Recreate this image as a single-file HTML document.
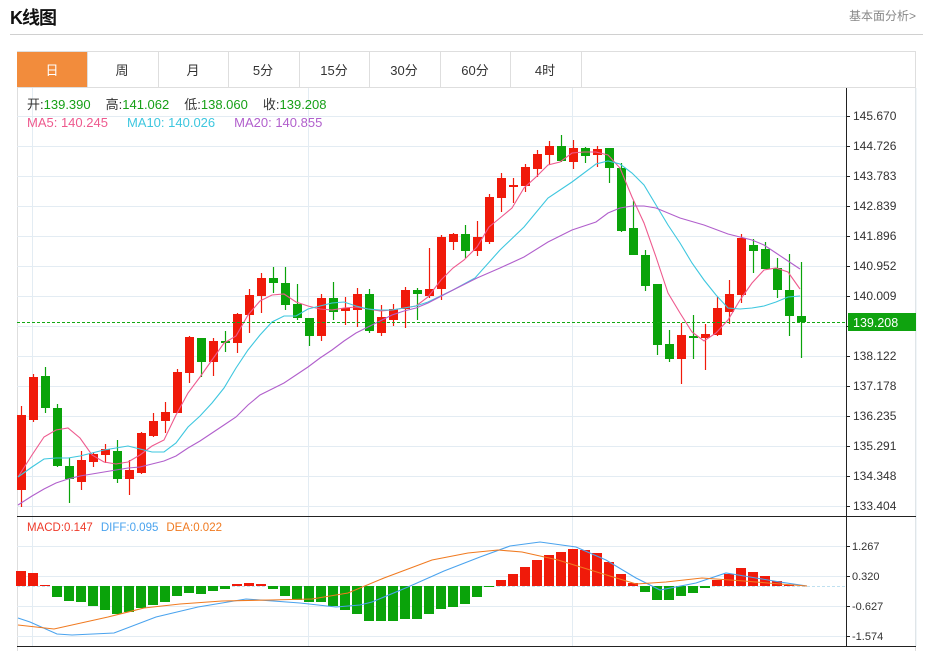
<!DOCTYPE html>
<html><head><meta charset="utf-8">
<style>
body{margin:0;background:#fff;width:929px;height:651px;overflow:hidden;position:relative;font-family:"Liberation Sans","Noto Sans CJK SC",sans-serif;}
.t{position:absolute;white-space:nowrap}
</style></head><body>
<div class="t" style="left:10px;top:4px;font-size:18px;font-weight:bold;color:#111;letter-spacing:-1px">K线图</div>
<div class="t" style="left:849px;top:7px;font-size:12px;color:#888">基本面分析&gt;</div>
<div style="position:absolute;left:10px;top:34px;width:913px;height:1px;background:#d0d0d0"></div>
<svg id="s" width="929" height="651" style="position:absolute;left:0;top:0" xmlns="http://www.w3.org/2000/svg" font-family="Liberation Sans, Noto Sans CJK SC, sans-serif">
<rect x="17.5" y="51.5" width="898" height="600" fill="none" stroke="#dedede"/>
<rect x="17" y="52" width="70" height="35" fill="#f28c3c"/>
<g stroke="#dedede"><line x1="17" y1="87.5" x2="916" y2="87.5"/>
<line x1="87.5" y1="52" x2="87.5" y2="87"/><line x1="158.5" y1="52" x2="158.5" y2="87"/><line x1="228.5" y1="52" x2="228.5" y2="87"/><line x1="299.5" y1="52" x2="299.5" y2="87"/><line x1="369.5" y1="52" x2="369.5" y2="87"/><line x1="440.5" y1="52" x2="440.5" y2="87"/><line x1="510.5" y1="52" x2="510.5" y2="87"/><line x1="581.5" y1="52" x2="581.5" y2="87"/></g>
<g font-size="13" text-anchor="middle" fill="#333"><text x="52" y="75" fill="#fff">日</text><text x="122" y="75">周</text><text x="193" y="75">月</text><text x="263" y="75">5分</text><text x="334" y="75">15分</text><text x="404" y="75">30分</text><text x="475" y="75">60分</text><text x="545" y="75">4时</text></g>
<g id="grid" stroke="#e3ecf3" stroke-width="1"></g>
<g id="c"></g>
<line x1="846.5" y1="88" x2="846.5" y2="646" stroke="#222"/>
<line x1="17" y1="516.5" x2="916" y2="516.5" stroke="#222"/>
<line x1="17" y1="646.5" x2="916" y2="646.5" stroke="#222"/>
<line x1="17" y1="322.5" x2="846" y2="322.5" stroke="#13a813" stroke-dasharray="3,2"/>
<rect x="848" y="313" width="68" height="18" fill="#0fa30f"/>
<text x="853" y="327" font-size="12.5" fill="#fff">139.208</text>
<g id="lab" font-size="12" fill="#333"></g>
<g font-size="13">
<text x="27" y="109"><tspan fill="#333">开:</tspan><tspan fill="#17a017">139.390</tspan><tspan fill="#333" dx="15">高:</tspan><tspan fill="#17a017">141.062</tspan><tspan fill="#333" dx="15">低:</tspan><tspan fill="#17a017">138.060</tspan><tspan fill="#333" dx="15">收:</tspan><tspan fill="#17a017">139.208</tspan></text>
<text x="27" y="127"><tspan fill="#ee5a8e">MA5: 140.245</tspan><tspan fill="#3ec7df" dx="19">MA10: 140.026</tspan><tspan fill="#b15fcc" dx="19">MA20: 140.855</tspan></text>
</g>
<text x="27" y="531" font-size="11.5"><tspan fill="#ee3a2a">MACD:0.147</tspan><tspan fill="#4aa3ee" dx="8">DIFF:0.095</tspan><tspan fill="#f07a20" dx="8">DEA:0.022</tspan></text>
</svg>
<script>
var NS="http://www.w3.org/2000/svg";
function el(p,t,a){var e=document.createElementNS(NS,t);for(var k in a)e.setAttribute(k,a[k]);document.getElementById(p).appendChild(e);return e;}
var pl=["145.670","144.726","143.783","142.839","141.896","140.952","140.009",null,"138.122","137.178","136.235","135.291","134.348","133.404"];
for(var i=0;i<14;i++){var y=116+30*i;el("grid","line",{x1:17,x2:846,y1:y+.5,y2:y+.5});el("grid","line",{x1:846,x2:850,y1:y+.5,y2:y+.5,stroke:"#222"});}
pl.forEach(function(v,i){if(v){var t=el("lab","text",{x:853,y:120+30*i});t.textContent=v;}});
[["1.267",546],["0.320",576],["-0.627",606],["-1.574",636]].forEach(function(a){el("grid","line",{x1:17,x2:846,y1:a[1]+.5,y2:a[1]+.5});el("grid","line",{x1:846,x2:850,y1:a[1]+.5,y2:a[1]+.5,stroke:"#222"});var t=el("lab","text",{x:852,y:a[1]+4,"font-size":11});t.textContent=a[0];});
[32.5,308.5,572.5].forEach(function(x){el("grid","line",{x1:x,x2:x,y1:88,y2:646});});
el("grid","line",{x1:916,x2:916,y1:88,y2:646});
var C=[["r",415,490,406,507],["r",377,420,374,422],["g",376,408,367,413],["g",408,466,404,467],["g",466,479,458,503],["r",460,482,451,490],["r",454,462,452,467],["r",449,455,444,463],["g",451,479,440,483],["r",470,479,460,495],
["r",433,473,432,474],["r",421,436,413,437],["r",412,421,402,433],["r",372,413,369,413],["r",337,373,336,383],["g",338,362,338,377],["r",341,362,338,376],["g",341,342,331,352],["r",314,343,313,353],["r",295,315,289,333],
["r",278,296,273,313],["g",278,283,267,293],["g",283,305,267,310],["g",304,318,284,320],["g",318,336,318,346],["r",298,336,294,341],["g",298,312,282,320],["r",308,311,297,325],["r",294,310,288,327],["g",294,331,289,333],
["r",317,333,305,336],["r",309,320,304,326],["r",290,309,287,328],["g",290,294,288,320],["r",289,296,248,298],["r",237,289,235,300],["r",234,242,233,250],["g",234,251,225,258],["r",237,251,221,256],["r",197,242,194,244],
["r",178,198,173,212],["r",185,187,178,203],["r",167,186,164,192],["r",154,169,150,177],["r",146,155,141,165],["g",146,161,135,162],["r",148,162,140,169],["g",148,156,147,163],["r",149,155,146,167],["g",148,168,148,183],
["g",168,231,163,232],["g",228,255,201,255],["g",255,286,250,291],["g",284,345,284,355],["g",344,359,330,362],["r",335,359,323,384],["g",336,338,315,359],["r",334,338,324,370],["r",308,335,297,336],["r",294,312,280,324],
["r",238,295,234,303],["g",245,251,239,273],["g",249,269,242,269],["g",268,290,258,298],["g",290,316,254,336],["g",316,322,262,358]];
C.forEach(function(c,i){var x=21+12*i,col=c[0]=="r"?"#f01a0a":"#0aa30a";
el("c","line",{x1:x+.5,x2:x+.5,y1:c[3],y2:c[4],stroke:col,"stroke-width":1.2});
el("c","rect",{x:x-4,y:c[1],width:9,height:Math.max(2,c[2]-c[1]),fill:col});});
function line(pts,col,w){el("c","polyline",{points:pts.map(function(p){return p.join(",")}).join(" "),fill:"none",stroke:col,"stroke-width":w||1.1});}
line([[18,477],[32,455],[44,437],[56,430],[68,428],[80,438],[92,455],[104,462],[116,464],[128,462],[140,455],[152,446],[164,440],[176,415],[188,393],[200,377],[212,360],[224,343],[236,336],[248,315],[260,301],[272,295],[284,294],[296,302],[308,306],[320,309],[332,310],[344,308],[356,307],[368,309],[380,311],[392,310],[404,308],[416,306],[428,297],[441,280],[453,268],[464,260],[477,247],[489,227],[500,218],[512,208],[524,188],[536,177],[548,165],[560,162],[572,153],[584,152],[596,152],[608,155],[620,168],[632,197],[644,223],[656,257],[668,293],[680,313],[692,332],[704,341],[716,333],[728,320],[740,300],[752,283],[764,270],[776,268],[788,272],[800,289]],"#ee5a8e");
line([[18,477],[32,467],[44,459],[56,458],[68,458],[80,456],[92,453],[104,450],[116,448],[128,446],[140,449],[152,452],[164,452],[176,443],[188,427],[200,416],[212,403],[224,388],[236,368],[248,350],[260,335],[272,322],[284,316],[296,316],[308,309],[320,306],[332,303],[344,302],[356,306],[368,309],[380,310],[392,310],[404,308],[416,306],[428,302],[453,290],[475,278],[500,250],[524,227],[548,198],[572,182],[596,164],[608,161],[620,164],[632,173],[644,185],[656,205],[668,225],[680,243],[692,263],[704,280],[716,295],[728,308],[740,309],[752,308],[764,306],[776,302],[788,297],[800,296]],"#3ec7df");
line([[18,505],[32,496],[44,489],[56,483],[68,479],[80,476],[92,474],[104,472],[116,470],[128,468],[140,467],[152,464],[164,461],[176,456],[188,448],[200,441],[212,433],[224,425],[236,417],[248,405],[260,395],[272,389],[284,383],[296,375],[308,367],[320,358],[332,350],[344,341],[356,333],[368,327],[380,321],[392,315],[404,311],[416,308],[428,303],[453,290],[477,278],[500,268],[524,257],[548,242],[572,230],[596,222],[608,213],[620,208],[632,206],[644,206],[656,208],[680,218],[704,225],[728,234],[752,240],[764,245],[776,253],[788,261],[800,269]],"#b15fcc");
el("c","line",{x1:17,x2:846,y1:586.5,y2:586.5,stroke:"#bfe0f0","stroke-dasharray":"3,2"});
var M=[571,573,585,597,601,602,606,610,614,612,608,605,602,596,593,594,591,589,584,583,584,589,596,600,602,602,606,610,614,621,621,621,619,619,614,609,607,604,597,587,580,574,567,560,555,552,549,550,553,562,574,583,592,600,600,596,593,588,580,574,568,572,576,581,585,586];
M.forEach(function(y,i){var x=21+12*i,z=586;if(Math.abs(y-z)<1)return;
el("c","rect",{x:x-5,y:Math.min(y,z),width:10,height:Math.abs(y-z),fill:y<z?"#f01a0a":"#0aa30a"});});
line([[18,618],[30,622],[57,634],[72,635],[114,633],[156,617],[198,607],[246,599],[300,603],[336,607],[360,605],[372,602],[408,587],[444,571],[480,557],[510,546],[540,542],[576,547],[606,560],[636,578],[660,590],[696,583],[726,573],[750,577],[780,582],[807,586]],"#4aa3ee");
line([[18,625],[54,629],[108,617],[144,608],[180,604],[222,601],[270,600],[312,599],[348,593],[384,578],[432,560],[468,553],[498,550],[522,552],[558,560],[600,573],[636,584],[666,582],[702,578],[744,581],[780,584],[807,586]],"#f07a20");
</script>
</body></html>
